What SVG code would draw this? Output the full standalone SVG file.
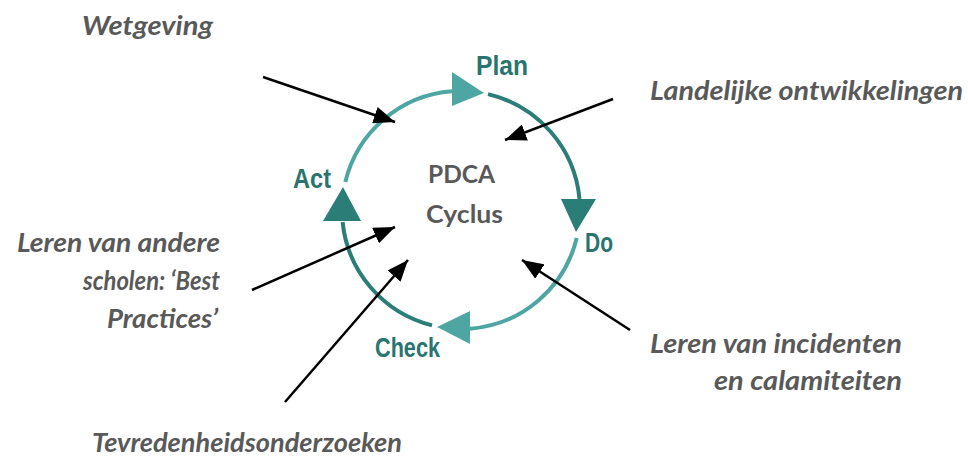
<svg xmlns="http://www.w3.org/2000/svg" width="968" height="459" viewBox="0 0 968 459">
<style>
.lt{fill:none;stroke:#4ea6a2;stroke-width:4}
.dk{fill:none;stroke:#2b7d78;stroke-width:4}
.ltf{fill:#4ea6a2}
.dkf{fill:#2b7d78}
.stage{font-family:"Liberation Sans Narrow","Liberation Sans",Arial,sans-serif;font-weight:bold;font-size:27px;fill:#2a7470}
.center{font-family:Lato,"Open Sans",sans-serif;font-weight:bold;font-size:25px;fill:#595959}
.lbl{font-family:Lato,"Open Sans",sans-serif;font-weight:bold;font-style:italic;font-size:26px;fill:#595959}
.con{fill:none;stroke:#000;stroke-width:2.5}
</style>
<defs>
<marker id="ah" viewBox="0 0 10 8" refX="10" refY="4" markerWidth="8.5" markerHeight="6.8" orient="auto" markerUnits="strokeWidth">
<path d="M0,0 L10,4 L0,8 Z" fill="#000"/>
</marker>
</defs>
<g id="cycle">
<path class="lt" d="M345.3,182 A119,119 0 0 1 452,91.3"/>
<polygon class="ltf" points="452,72 452,106 484,93"/>
<path class="dk" d="M488,94.1 A119,119 0 0 1 579.5,199"/>
<polygon class="dkf" points="561,199 596,199 576,232"/>
<path class="lt" d="M576.7,238 A119,119 0 0 1 470,328.7"/>
<polygon class="ltf" points="470,311 470,344 437,327"/>
<path class="dk" d="M432,325.4 A119,119 0 0 1 342.6,222"/>
<polygon class="dkf" points="323,221 361,221 343,187"/>
</g>
<g id="stage-plan"><text class="stage" x="476" y="75" textLength="52" lengthAdjust="spacingAndGlyphs">Plan</text></g>
<g id="stage-do"><text class="stage" x="585" y="252" textLength="28" lengthAdjust="spacingAndGlyphs">Do</text></g>
<g id="stage-check"><text class="stage" x="375" y="357" textLength="65" lengthAdjust="spacingAndGlyphs">Check</text></g>
<g id="stage-act"><text class="stage" x="293" y="188" textLength="38" lengthAdjust="spacingAndGlyphs">Act</text></g>
<g id="center">
<text class="center" x="428" y="183" textLength="67" lengthAdjust="spacingAndGlyphs">PDCA</text>
<text class="center" x="426" y="223" textLength="77" lengthAdjust="spacingAndGlyphs">Cyclus</text>
</g>
<g id="wetgeving"><text class="lbl" x="82" y="35" textLength="131" lengthAdjust="spacingAndGlyphs">Wetgeving</text></g>
<g id="landelijk"><text class="lbl" x="650" y="100" textLength="313" lengthAdjust="spacingAndGlyphs">Landelijke ontwikkelingen</text></g>
<g id="leren-scholen">
<text class="lbl" x="17" y="252" textLength="203" lengthAdjust="spacingAndGlyphs">Leren van andere</text>
<text class="lbl" x="83" y="290" textLength="137" lengthAdjust="spacingAndGlyphs">scholen: ‘Best</text>
<text class="lbl" x="107" y="328" textLength="111" lengthAdjust="spacingAndGlyphs">Practices’</text>
</g>
<g id="leren-incidenten">
<text class="lbl" x="650" y="353" textLength="252" lengthAdjust="spacingAndGlyphs">Leren van incidenten</text>
<text class="lbl" x="714" y="390" textLength="188" lengthAdjust="spacingAndGlyphs">en calamiteiten</text>
</g>
<g id="tevreden"><text class="lbl" x="92" y="452" textLength="310" lengthAdjust="spacingAndGlyphs">Tevredenheidsonderzoeken</text></g>
<g id="connectors">
<path class="con" d="M263,77 L395,122" marker-end="url(#ah)"/>
<path class="con" d="M613,99 L505,140" marker-end="url(#ah)"/>
<path class="con" d="M252,290 L395,227" marker-end="url(#ah)"/>
<path class="con" d="M285,402 L408,260" marker-end="url(#ah)"/>
<path class="con" d="M630,330 L522,260" marker-end="url(#ah)"/>
</g>
</svg>
